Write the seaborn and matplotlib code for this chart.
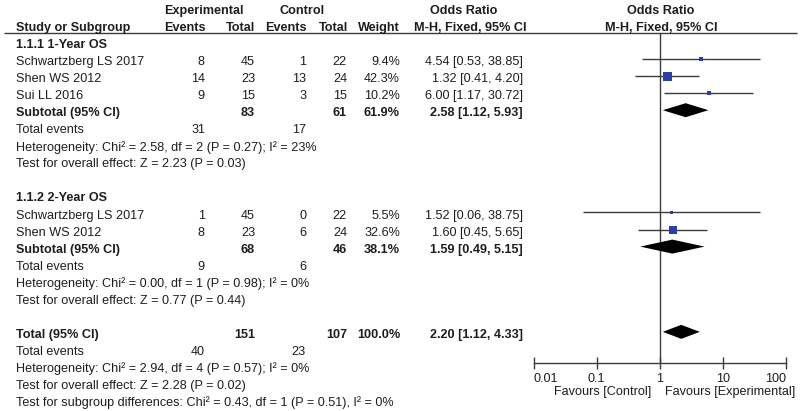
import numpy as np
import pandas as pd
import matplotlib
matplotlib.use("Agg")
import matplotlib.pyplot as plt
import seaborn as sns
from matplotlib.ticker import NullLocator

# ── Data ──────────────────────────────────────────────────────────────────────

group_names = ["1.1.1 1-Year OS", "1.1.2 2-Year OS"]
study_group = [0, 0, 0, 1, 1]
study_names = ["Schwartzberg LS 2017", "Shen WS 2012", "Sui LL 2016",
               "Schwartzberg LS 2017", "Shen WS 2012"]
exp_events  = [8, 14, 9, 1, 8]
exp_total   = [45, 23, 15, 45, 23]
ctrl_events = [1, 13, 3, 0, 6]
ctrl_total  = [22, 24, 15, 22, 24]
weights     = [9.4, 42.3, 10.2, 5.5, 32.6]
odds        = [4.54, 1.32, 6.00, 1.52, 1.60]
ci_low      = [0.53, 0.41, 1.17, 0.06, 0.45]
ci_high     = [38.85, 4.20, 30.72, 38.75, 5.65]

sub_exp_total   = [83, 68]
sub_ctrl_total  = [61, 46]
sub_weight      = [61.9, 38.1]
sub_odds        = [2.58, 1.59]
sub_low         = [1.12, 0.49]
sub_high        = [5.93, 5.15]
sub_exp_events  = [31, 9]
sub_ctrl_events = [17, 6]
sub_het = ["Heterogeneity: Chi² = 2.58, df = 2 (P = 0.27); I² = 23%",
           "Heterogeneity: Chi² = 0.00, df = 1 (P = 0.98); I² = 0%"]
sub_test = ["Test for overall effect: Z = 2.23 (P = 0.03)",
            "Test for overall effect: Z = 0.77 (P = 0.44)"]

total_exp_total   = 151
total_ctrl_total  = 107
total_weight      = 100.0
total_odds        = 2.20
total_low         = 1.12
total_high        = 4.33
total_exp_events  = 40
total_ctrl_events = 23
total_het  = "Heterogeneity: Chi² = 2.94, df = 4 (P = 0.57); I² = 0%"
total_test = "Test for overall effect: Z = 2.28 (P = 0.02)"
subgroup_diff = "Test for subgroup differences: Chi² = 0.43, df = 1 (P = 0.51), I² = 0%"

x_ticks = [0.01, 0.1, 1, 10, 100]
x_tick_labels = ["0.01", "0.1", "1", "10", "100"]

# ── Style / layout ────────────────────────────────────────────────────────────

sns.set_theme(style="white")
plt.rcParams["font.family"] = ["Liberation Sans", "DejaVu Sans"]

W, H = 800, 411
FS = 9.1
TEXT = "#1e1e1e"
LINE = "#3c3c3c"
BLUE = "#2b3ea8"

ROW0, STEP = 45, 17.05          # pixel y of first body row, row spacing
MARK_DY = -3                    # graphics sit slightly above the text
X_NAME, X_EE, X_ET, X_CE, X_CT, X_W, X_OR = 16, 205, 255, 306, 347, 400, 523
AX_L, AX_R, AX_T, AX_B = 533.7, 785.7, 33, 363


def row_y(i):
    return ROW0 + STEP * i


fig = plt.figure(figsize=(W / 100, H / 100), dpi=100)
ax = fig.add_axes([0, 0, 1, 1])
ax.set_xlim(0, W)
ax.set_ylim(H, 0)
ax.axis("off")

fx = fig.add_axes([AX_L / W, 1 - AX_B / H, (AX_R - AX_L) / W, (AX_B - AX_T) / H])
fx.set_xscale("log")
fx.set_xlim(x_ticks[0], x_ticks[-1])
fx.set_ylim(AX_B, AX_T)
fx.patch.set_alpha(0)


def txt(x, y, s, ha="left", bold=False):
    ax.text(x, y, s, ha=ha, va="center", fontsize=FS, color=TEXT,
            fontweight="bold" if bold else "normal")


# ── Header ────────────────────────────────────────────────────────────────────

txt(204, row_y(-2), "Experimental", ha="center", bold=True)
txt(302, row_y(-2), "Control", ha="center", bold=True)
txt(464, row_y(-2), "Odds Ratio", ha="center", bold=True)
txt(661, row_y(-2), "Odds Ratio", ha="center", bold=True)
txt(X_NAME, row_y(-1), "Study or Subgroup", bold=True)
txt(X_EE + 1, row_y(-1), "Events", ha="right", bold=True)
txt(X_ET, row_y(-1), "Total", ha="right", bold=True)
txt(X_CE + 1, row_y(-1), "Events", ha="right", bold=True)
txt(X_CT + 1, row_y(-1), "Total", ha="right", bold=True)
txt(X_W, row_y(-1), "Weight", ha="right", bold=True)
txt(470, row_y(-1), "M-H, Fixed, 95% CI", ha="center", bold=True)
txt(661, row_y(-1), "M-H, Fixed, 95% CI", ha="center", bold=True)
ax.hlines(AX_T, 4, 797, color=LINE, lw=1)

# ── Body rows ─────────────────────────────────────────────────────────────────

study_rows = []
diamonds = []        # (row, low, est, high)
r = 0
for g, gname in enumerate(group_names):
    txt(X_NAME, row_y(r), gname, bold=True)
    r += 1
    for i in [k for k, sg in enumerate(study_group) if sg == g]:
        y = row_y(r)
        txt(X_NAME, y, study_names[i])
        txt(X_EE, y, str(exp_events[i]), ha="right")
        txt(X_ET, y, str(exp_total[i]), ha="right")
        txt(X_CE, y, str(ctrl_events[i]), ha="right")
        txt(X_CT, y, str(ctrl_total[i]), ha="right")
        txt(X_W, y, f"{weights[i]:.1f}%", ha="right")
        txt(X_OR, y, f"{odds[i]:.2f} [{ci_low[i]:.2f}, {ci_high[i]:.2f}]", ha="right")
        study_rows.append(r)
        r += 1
    y = row_y(r)
    txt(X_NAME, y, "Subtotal (95% CI)", bold=True)
    txt(X_ET, y, str(sub_exp_total[g]), ha="right", bold=True)
    txt(X_CT, y, str(sub_ctrl_total[g]), ha="right", bold=True)
    txt(X_W, y, f"{sub_weight[g]:.1f}%", ha="right", bold=True)
    txt(X_OR, y, f"{sub_odds[g]:.2f} [{sub_low[g]:.2f}, {sub_high[g]:.2f}]",
        ha="right", bold=True)
    diamonds.append((r, sub_low[g], sub_odds[g], sub_high[g]))
    r += 1
    txt(X_NAME, row_y(r), "Total events")
    txt(X_EE, row_y(r), str(sub_exp_events[g]), ha="right")
    txt(X_CE, row_y(r), str(sub_ctrl_events[g]), ha="right")
    r += 1
    txt(X_NAME, row_y(r), sub_het[g])
    r += 1
    txt(X_NAME, row_y(r), sub_test[g])
    r += 2

y = row_y(r)
txt(X_NAME, y, "Total (95% CI)", bold=True)
txt(X_ET, y, str(total_exp_total), ha="right", bold=True)
txt(X_CT, y, str(total_ctrl_total), ha="right", bold=True)
txt(X_W, y, f"{total_weight:.1f}%", ha="right", bold=True)
txt(X_OR, y, f"{total_odds:.2f} [{total_low:.2f}, {total_high:.2f}]",
    ha="right", bold=True)
diamonds.append((r, total_low, total_odds, total_high))
r += 1
txt(X_NAME, row_y(r), "Total events")
txt(X_EE, row_y(r), str(total_exp_events), ha="right")
txt(X_CE, row_y(r), str(total_ctrl_events), ha="right")
r += 1
txt(X_NAME, row_y(r), total_het)
r += 1
txt(X_NAME, row_y(r), total_test)
r += 1
txt(X_NAME, row_y(r), subgroup_diff)

# ── Forest graphics ───────────────────────────────────────────────────────────

fx.axvline(1, color=LINE, lw=1, zorder=1)

df = pd.DataFrame({
    "odds": odds, "low": ci_low, "high": ci_high, "weight": weights,
    "y": [row_y(k) + MARK_DY for k in study_rows],
})
fx.hlines(df["y"], df["low"], df["high"], color=LINE, lw=1, zorder=2)
sns.scatterplot(data=df, x="odds", y="y", size="weight", size_norm=(0, 100),
                sizes=(0, 100), marker="s", color=BLUE, linewidth=0,
                legend=False, ax=fx, zorder=3, clip_on=False)

DH = 7   # diamond half height in px
for rr, lo, est, hi in diamonds:
    yc = row_y(rr) + MARK_DY
    fx.fill([lo, est, hi, est], [yc, yc - DH, yc, yc + DH],
            color="black", lw=0, zorder=3)

for s in ["top", "left", "right"]:
    fx.spines[s].set_visible(False)
fx.spines["bottom"].set_color(LINE)
fx.spines["bottom"].set_linewidth(1)
fx.set_xticks(x_ticks)
fx.set_xticklabels(x_tick_labels)
fx.xaxis.set_minor_locator(NullLocator())
fx.set_yticks([])
fx.set_xlabel("")
fx.set_ylabel("")
fx.tick_params(axis="x", direction="inout", length=8, width=1, pad=3,
               labelsize=FS, colors=LINE, labelcolor=TEXT, bottom=True)
tick_lbls = fx.get_xticklabels()
tick_lbls[0].set_horizontalalignment("left")
tick_lbls[-1].set_horizontalalignment("right")

txt(651, 392, "Favours [Control]", ha="right")
txt(665, 392, "Favours [Experimental]")

fig.savefig("out.png", dpi=100)
